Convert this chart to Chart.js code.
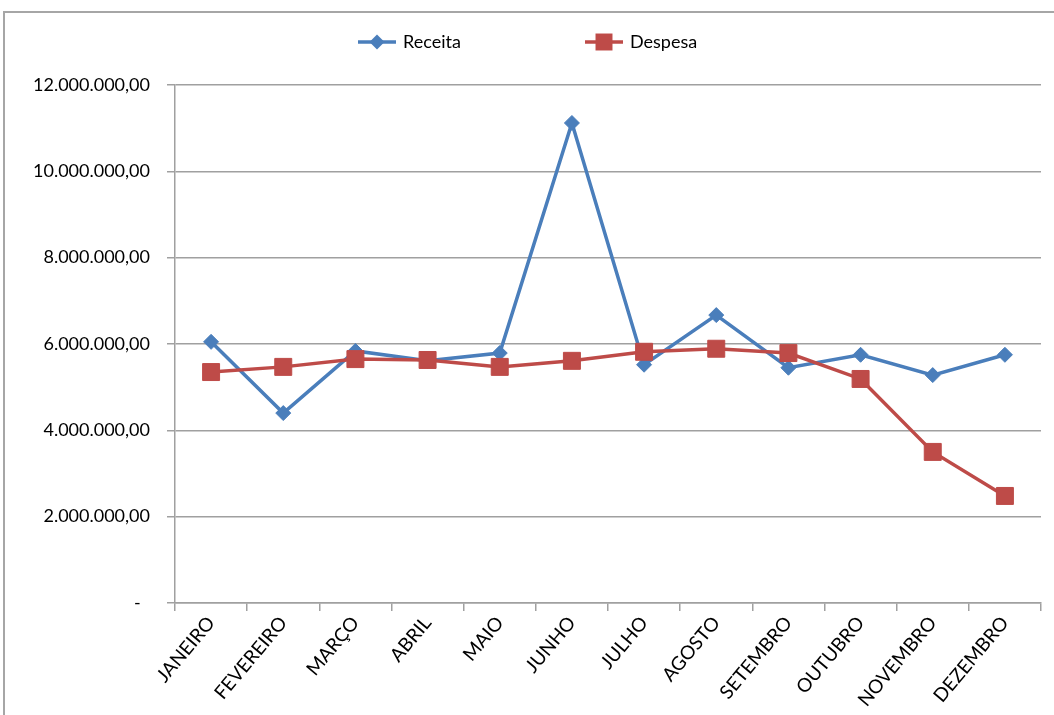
<!DOCTYPE html>
<html>
<head>
<meta charset="utf-8">
<script src="https://cdn.jsdelivr.net/npm/chart.js@4.4.0/dist/chart.umd.min.js"></script>
<style>
  html, body { margin: 0; padding: 0; background: #fff; overflow: hidden; }
  #wrap { position: relative; width: 1054px; height: 715px; }
  #frame { position: absolute; left: 3px; top: 11px; width: 1100px; height: 800px;
           border: 2px solid #a6a6a6; box-sizing: border-box; }
  canvas { position: absolute; left: 0; top: 0; }
</style>
</head>
<body>
<div id="wrap">
  <div id="frame"></div>
  <canvas id="grafico" width="1054" height="715"></canvas>
</div>
<script>
// dados
const meses = ['JANEIRO', 'FEVEREIRO', 'MARÇO', 'ABRIL', 'MAIO', 'JUNHO',
  'JULHO', 'AGOSTO', 'SETEMBRO', 'OUTUBRO', 'NOVEMBRO', 'DEZEMBRO'];
const receita = [6050000, 4400000, 5840000, 5610000, 5790000, 11120000,
  5520000, 6670000, 5450000, 5750000, 5280000, 5750000];
const despesa = [5350000, 5470000, 5650000, 5630000, 5470000, 5610000,
  5820000, 5890000, 5790000, 5190000, 3500000, 2480000];
const yTicks = [0, 2000000, 4000000, 6000000, 8000000, 10000000, 12000000];

const FONTE = 'Lato, "Open Sans", sans-serif';
const AZUL = '#4a7ebb';
const VERMELHO = '#be4b48';
const CINZA = '#a0a0a0';

function formata(v) {
  if (v === 0) return '-\u00a0\u00a0';
  return Math.round(v).toString().replace(/\B(?=(\d{3})+(?!\d))/g, '.') + ',00';
}

function marcador(ctx, estilo, r, x, y) {
  ctx.beginPath();
  if (estilo === 'rectRot') {
    ctx.moveTo(x - r, y);
    ctx.lineTo(x, y - r);
    ctx.lineTo(x + r, y);
    ctx.lineTo(x, y + r);
  } else {
    const s = r * Math.SQRT1_2;
    ctx.rect(x - s, y - s, 2 * s, 2 * s);
  }
  ctx.closePath();
  ctx.fill();
}

// legenda no estilo do Excel: linha + marcador
const legendaX = [358, 585];
const legenda = {
  id: 'legenda',
  afterDraw(chart) {
    const ctx = chart.ctx;
    ctx.save();
    ctx.font = '18px ' + FONTE;
    ctx.textBaseline = 'middle';
    const linha = 38, espaco = 7, y = 42;
    chart.data.datasets.forEach((ds, i) => {
      const x = legendaX[i];
      ctx.strokeStyle = ds.borderColor;
      ctx.fillStyle = ds.borderColor;
      ctx.lineWidth = 3.5;
      ctx.beginPath();
      ctx.moveTo(x, y);
      ctx.lineTo(x + linha, y);
      ctx.stroke();
      marcador(ctx, ds.pointStyle, ds.pointRadius, x + linha / 2, y);
      ctx.fillStyle = '#000';
      ctx.fillText(ds.label, x + linha + espaco, y);
    });
    ctx.restore();
  }
};

new Chart(document.getElementById('grafico'), {
  type: 'line',
  data: {
    labels: meses,
    datasets: [{
      label: 'Receita',
      data: receita,
      borderColor: AZUL,
      backgroundColor: AZUL,
      borderWidth: 3.5,
      pointStyle: 'rectRot',
      pointRadius: 7.5,
      pointBorderWidth: 1,
      tension: 0,
      order: 1
    }, {
      label: 'Despesa',
      data: despesa,
      borderColor: VERMELHO,
      backgroundColor: VERMELHO,
      borderWidth: 3.5,
      pointStyle: 'rect',
      pointRadius: 12,
      pointBorderWidth: 1,
      tension: 0,
      order: 0
    }]
  },
  options: {
    responsive: false,
    animation: false,
    devicePixelRatio: 1,
    layout: { padding: { top: 85, right: 8, left: 0, bottom: 0 } },
    plugins: { legend: { display: false }, tooltip: { enabled: false } },
    scales: {
      x: {
        offset: true,
        grid: { offset: true, drawOnChartArea: false, drawTicks: true, tickLength: 8, color: CINZA, lineWidth: 1.5 },
        border: { color: CINZA, width: 1.5 },
        ticks: { minRotation: 50, maxRotation: 50, autoSkip: false, color: '#000', padding: 1,
                 font: { family: FONTE, size: 19 } },
        afterFit(s) { s.height = 112; }
      },
      y: {
        min: 0,
        max: 12000000,
        afterBuildTicks(s) { s.ticks = yTicks.map(v => ({ value: v })); },
        grid: { color: CINZA, lineWidth: 1.5, tickLength: 8 },
        border: { color: CINZA, width: 1.5 },
        ticks: { callback: formata, color: '#000', padding: 17, font: { family: FONTE, size: 18 } },
        afterFit(s) { s.width = 175; }
      }
    }
  },
  plugins: [legenda]
});
</script>
</body>
</html>
